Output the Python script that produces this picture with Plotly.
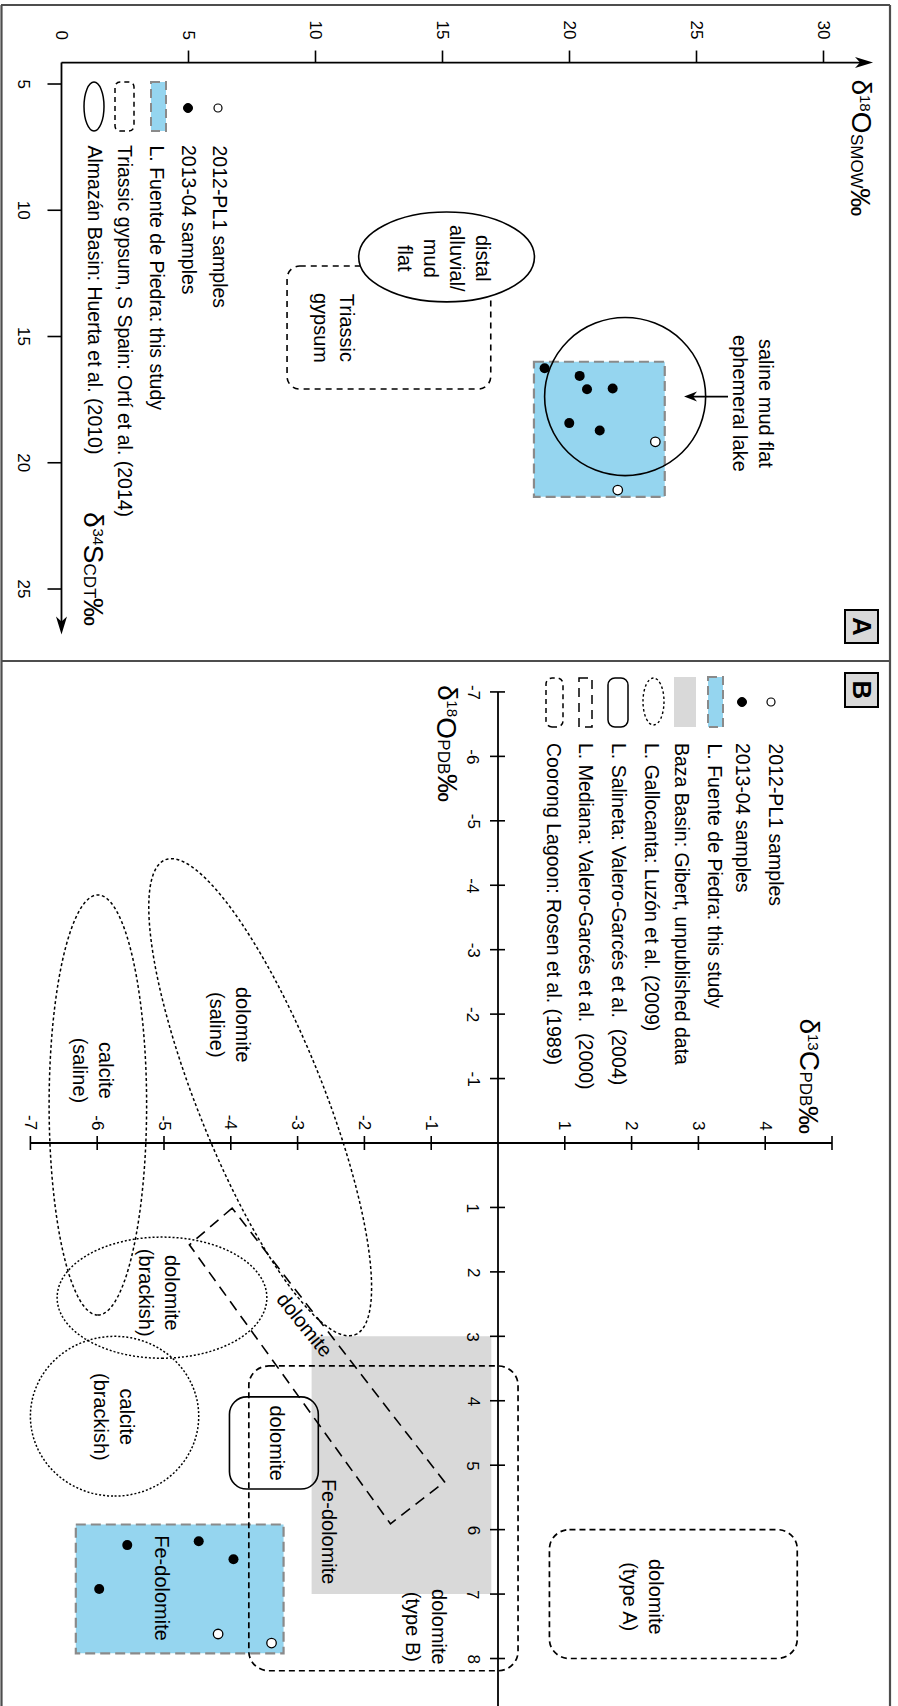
import numpy as np
import plotly.graph_objects as go

W, H = 898, 1706
SPLIT = 1 - 661 / H          # paper y of the line between panels A and B
FONT = "Liberation Sans, Arial, Helvetica, sans-serif"
BLUE = "#95d5ef"
BLUE_EDGE = "#8a8a8a"
GREY_FILL = "#d9d9d9"

# ---------------- Panel A: gypsum δ34S (CDT) vs δ18O (SMOW) ----------------
A_PL1_D18O = [23.38, 21.90]
A_PL1_D34S = [19.17, 21.08]
A_1304_D18O = [19.02, 20.40, 20.69, 21.70, 19.99, 21.19]
A_1304_D34S = [16.26, 16.56, 17.09, 17.06, 18.43, 18.72]

A_FUENTE_D18O = [18.6, 23.75]
A_FUENTE_D34S = [16.0, 21.35]
A_TRIASSIC_D18O = [8.88, 16.9]
A_TRIASSIC_D34S = [12.21, 17.08]
# Almazán Basin fields: centre (δ18O, δ34S) and half-widths
A_DISTAL_CENTER = [15.16, 11.85]
A_DISTAL_HALF = [3.46, 1.78]
A_SALINE_CENTER = [22.19, 17.38]
A_SALINE_HALF = [3.17, 3.13]

A_D18O_TICKS = [0, 5, 10, 15, 20, 25, 30]
A_D34S_TICKS = [5, 10, 15, 20, 25]
A_ORIGIN = [0, 4.15]
A_D18O_END = 31.95
A_D34S_END = 26.8

A_FIELD_LABELS = [
    ("distal<br>alluvial/<br>mud<br>flat", 15.06, 11.89),
    ("Triassic<br>gypsum", 10.73, 14.66),
    ("saline mud flat<br>ephemeral lake", 27.22, 17.67),
]
A_POINTER = [26.24, 24.51, 17.38]   # δ18O from, δ18O to, δ34S

# ---------------- Panel B: carbonate δ13C (PDB) vs δ18O (PDB) ----------------
B_PL1_D13C = [-4.19, -3.39]
B_PL1_D18O = [7.62, 7.76]
B_1304_D13C = [-5.55, -4.48, -3.96, -5.97]
B_1304_D18O = [6.24, 6.18, 6.46, 6.92]

B_FUENTE_D13C = [-6.32, -3.21]
B_FUENTE_D18O = [5.92, 7.92]
B_BAZA_D13C = [-2.79, -0.10]
B_BAZA_D18O = [3.0, 7.0]
B_SALINETA_D13C = [-4.02, -2.69]
B_SALINETA_D18O = [3.94, 5.37]
B_COORONG_B_D13C = [-3.73, 0.30]
B_COORONG_B_D18O = [3.46, 8.19]
B_COORONG_A_D13C = [0.77, 4.48]
B_COORONG_A_D18O = [6.0, 8.0]
B_MEDIANA_D13C = [-3.98, -4.62, -1.61, -0.80]
B_MEDIANA_D18O = [1.01, 1.58, 5.91, 5.26]
# Gallocanta fields: centre δ13C, centre δ18O, half-width across, half-length along, tilt (deg)
B_GALLOCANTA = [
    [-3.56, -0.71, 0.945, 3.95, 21.0],   # dolomite (saline)
    [-5.99, -0.59, 0.73, 3.26, 0.0],     # calcite (saline)
    [-5.03, 2.40, 1.57, 0.94, 0.0],      # dolomite (brackish)
    [-5.74, 4.24, 1.26, 1.24, 0.0],      # calcite (brackish)
]
B_GALLOCANTA_DASH = ["3px,2.5px", "3px,2.5px", "2px,2px", "2px,2px"]

B_D13C_TICKS = [-7, -6, -5, -4, -3, -2, -1, 1, 2, 3, 4, 5]
B_D13C_LABELS = [-7, -6, -5, -4, -3, -2, -1, 1, 2, 3, 4]
B_D18O_TICKS = [-7, -6, -5, -4, -3, -2, -1, 1, 2, 3, 4, 5, 6, 7, 8]
B_D13C_RANGE = [-7, 5]
B_D18O_RANGE = [-7, 8.74]

B_FIELD_LABELS = [
    ("dolomite<br>(saline)", -4.01, -1.83, 90),
    ("calcite<br>(saline)", -6.06, -1.12, 90),
    ("dolomite<br>(brackish)", -5.07, 2.33, 90),
    ("calcite<br>(brackish)", -5.75, 4.25, 90),
    ("dolomite", -2.89, 2.82, 51),
    ("dolomite", -3.31, 4.66, 90),
    ("Fe-dolomite", -2.54, 6.04, 90),
    ("Fe-dolomite", -5.03, 6.91, 90),
    ("dolomite<br>(type B)", -1.08, 7.51, 90),
    ("dolomite<br>(type A)", 2.16, 7.05, 90),
]

LEGEND_A = ["2012-PL1 samples", "2013-04 samples", "L. Fuente de Piedra: this study",
            "Triassic gypsum, S Spain: Ortí et al. (2014)", "Almazán Basin: Huerta et al. (2010)"]
LEGEND_B = ["2012-PL1 samples", "2013-04 samples", "L. Fuente de Piedra: this study",
            "Baza Basin: Gibert, unpublished data", "L. Gallocanta: Luzón et al. (2009)",
            "L. Salineta: Valero-Garcés et al.  (2004)", "L. Mediana: Valero-Garcés et al.  (2000)",
            "Coorong Lagoon: Rosen et al. (1989)"]

shapes = []
annotations = []


def px(x):
    return x / W


def py(y):
    return 1 - y / H


def rrect_path(x0, x1, y0, y1, rx, ry):
    xa, xb = min(x0, x1), max(x0, x1)
    ya, yb = min(y0, y1), max(y0, y1)
    c = 0.5523
    return " ".join([
        f"M{xa + rx},{ya}", f"L{xb - rx},{ya}",
        f"C{xb - rx + c * rx},{ya} {xb},{ya + ry - c * ry} {xb},{ya + ry}",
        f"L{xb},{yb - ry}",
        f"C{xb},{yb - ry + c * ry} {xb - rx + c * rx},{yb} {xb - rx},{yb}",
        f"L{xa + rx},{yb}",
        f"C{xa + rx - c * rx},{yb} {xa},{yb - ry + c * ry} {xa},{yb - ry}",
        f"L{xa},{ya + ry}",
        f"C{xa},{ya + ry - c * ry} {xa + rx - c * rx},{ya} {xa + rx},{ya}", "Z"])


def ellipse_path(cx, cy, hx, hy, tilt, n=160):
    t = np.linspace(0, 2 * np.pi, n, endpoint=False)
    th = np.radians(tilt)
    xs = cx + hy * np.cos(t) * np.sin(th) + hx * np.sin(t) * np.cos(th)
    ys = cy + hy * np.cos(t) * np.cos(th) - hx * np.sin(t) * np.sin(th)
    pts = [f"{a:.4f},{b:.4f}" for a, b in zip(xs, ys)]
    return "M" + " L".join(pts) + " Z"


def poly_path(xs, ys):
    return "M" + " L".join(f"{a},{b}" for a, b in zip(xs, ys)) + " Z"


def add_shape(layer="below", **kw):
    kw.setdefault("layer", layer)
    shapes.append(kw)


def ln(width=1.8, dash="solid", color="black"):
    return dict(color=color, width=width, dash=dash)


def text(x, y, s, xref="x", yref="y", size=19, angle=90, xanchor="center",
         yanchor="middle", xshift=0, yshift=0, bold=False):
    annotations.append(dict(
        x=x, y=y, xref=xref, yref=yref, text=f"<b>{s}</b>" if bold else s,
        showarrow=False, textangle=angle, align="center",
        font=dict(family=FONT, size=size, color="black"),
        xanchor=xanchor, yanchor=yanchor, xshift=xshift, yshift=yshift))


# advance widths (em) of the glyphs used in the isotope axis titles
ADV = {"δ": 0.556, "0": 0.556, "1": 0.556, "3": 0.556, "4": 0.556, "8": 0.556,
       "O": 0.778, "S": 0.667, "C": 0.722, "M": 0.833, "W": 0.944, "D": 0.722,
       "T": 0.611, "P": 0.667, "B": 0.667, "‰": 1.0}
BIG, SUP, SUB = 28, 15, 17


def title_length(iso, elem, std):
    return (ADV["δ"] * BIG + sum(ADV[c] for c in iso) * SUP + ADV[elem] * BIG
            + sum(ADV[c] for c in std) * SUB + ADV["‰"] * BIG)


def axis_title(x, y, xref, yref, iso, elem, std, xshift, top_shift):
    """Rotated isotope title (reads top to bottom); top_shift is the y shift of its start."""
    base = -0.35 * BIG                       # baseline offset from the main glyph centre
    pieces = [("δ", BIG, 0.0), (iso, SUP, base + 0.33 * BIG + 0.35 * SUP),
              (elem, BIG, 0.0), (std, SUB, base + 0.35 * SUB), ("‰", BIG, 0.0)]
    pos = 0.0
    for s, size, dx in pieces:
        text(x, y, s, xref=xref, yref=yref, size=size, yanchor="top",
             xshift=xshift + dx, yshift=top_shift - pos)
        pos += sum(ADV[c] for c in s) * size


def arrowhead(xref, yref, x, y, direction, length=18, half=5.5, notch=13):
    if direction == "right":
        p = f"M0,0 L{-length},{half} L{-notch},0 L{-length},{-half} Z"
    elif direction == "left":
        p = f"M0,0 L{length},{half} L{notch},0 L{length},{-half} Z"
    else:  # down
        p = f"M0,0 L{half},{length} L0,{notch} L{-half},{length} Z"
    add_shape(type="path", xref=xref, yref=yref, xsizemode="pixel", ysizemode="pixel",
              xanchor=x, yanchor=y, path=p, fillcolor="black", line=dict(width=0))


# ======================= Panel A =======================
add_shape(type="rect", xref="x", yref="y", x0=A_FUENTE_D18O[0], x1=A_FUENTE_D18O[1],
          y0=A_FUENTE_D34S[0], y1=A_FUENTE_D34S[1], fillcolor=BLUE,
          line=ln(2.2, "10px,5px", BLUE_EDGE))
add_shape(type="path", xref="x", yref="y",
          path=rrect_path(A_TRIASSIC_D18O[0], A_TRIASSIC_D18O[1],
                          A_TRIASSIC_D34S[0], A_TRIASSIC_D34S[1], 0.5, 0.5),
          line=ln(1.6, "6px,5px"))
add_shape(type="circle", xref="x", yref="y",
          x0=A_DISTAL_CENTER[0] - A_DISTAL_HALF[0], x1=A_DISTAL_CENTER[0] + A_DISTAL_HALF[0],
          y0=A_DISTAL_CENTER[1] - A_DISTAL_HALF[1], y1=A_DISTAL_CENTER[1] + A_DISTAL_HALF[1],
          fillcolor="white", line=ln(1.6))
add_shape(type="circle", xref="x", yref="y",
          x0=A_SALINE_CENTER[0] - A_SALINE_HALF[0], x1=A_SALINE_CENTER[0] + A_SALINE_HALF[0],
          y0=A_SALINE_CENTER[1] - A_SALINE_HALF[1], y1=A_SALINE_CENTER[1] + A_SALINE_HALF[1],
          line=ln(1.6))
add_shape(type="line", xref="x", yref="y", x0=A_POINTER[0], x1=A_POINTER[1] + 0.3,
          y0=A_POINTER[2], y1=A_POINTER[2], line=ln(1.6))
arrowhead("x", "y", A_POINTER[1], A_POINTER[2], "left", length=13, half=5, notch=9)

add_shape(type="line", xref="x", yref="y", x0=A_ORIGIN[0], x1=A_D18O_END - 0.4,
          y0=A_ORIGIN[1], y1=A_ORIGIN[1], line=ln(1.8))
arrowhead("x", "y", A_D18O_END, A_ORIGIN[1], "right")
add_shape(type="line", xref="x", yref="y", x0=A_ORIGIN[0], x1=A_ORIGIN[0],
          y0=A_ORIGIN[1], y1=A_D34S_END - 0.4, line=ln(1.8))
arrowhead("x", "y", A_ORIGIN[0], A_D34S_END, "down")
for v in A_D18O_TICKS[1:]:
    add_shape(type="line", xref="x", yref="y", x0=v, x1=v, ysizemode="pixel",
              yanchor=A_ORIGIN[1], y0=0, y1=12, line=ln(1.6))
for v in A_D18O_TICKS:
    text(v, A_ORIGIN[1], str(v), size=17, yanchor="bottom", yshift=21)
for v in A_D34S_TICKS:
    add_shape(type="line", xref="x", yref="y", y0=v, y1=v, xsizemode="pixel",
              xanchor=A_ORIGIN[0], x0=-14, x1=0, line=ln(1.6))
    text(A_ORIGIN[0], v, str(v), size=17, xshift=-38)

axis_title(A_D18O_END, A_ORIGIN[1], "x", "y", "18", "O", "SMOW", xshift=-12, top_shift=-15)
axis_title(A_ORIGIN[0], A_D34S_END, "x", "y", "34", "S", "CDT", xshift=32,
           top_shift=10 + title_length("34", "S", "CDT"))

for s, xv, yv in A_FIELD_LABELS:
    text(xv, yv, s, size=20)

# legend A
add_shape(layer="above", type="circle", xref="paper", yref="paper",
          x0=px(214), x1=px(222), y0=py(104), y1=py(112), fillcolor="white", line=ln(1.2))
add_shape(layer="above", type="circle", xref="paper", yref="paper",
          x0=px(183.5), x1=px(192.5), y0=py(103.5), y1=py(112.5), fillcolor="black", line=ln(1))
add_shape(layer="above", type="rect", xref="paper", yref="paper",
          x0=px(151), x1=px(166), y0=py(82), y1=py(131), fillcolor=BLUE,
          line=ln(2, "9px,5px", BLUE_EDGE))
add_shape(layer="above", type="path", xref="paper", yref="paper",
          path=rrect_path(px(115), px(134), py(82), py(131), px(5), 5 / H),
          line=ln(1.5, "5px,4px"))
add_shape(layer="above", type="circle", xref="paper", yref="paper",
          x0=px(84), x1=px(104), y0=py(82), y1=py(131), line=ln(1.5))
for s, xc in zip(LEGEND_A, [220, 189, 157, 125, 95]):
    text(px(xc), py(143), s, xref="paper", yref="paper", size=19.5, yanchor="top")

# ======================= Panel B =======================
add_shape(type="rect", xref="x2", yref="y2", x0=B_BAZA_D13C[0], x1=B_BAZA_D13C[1],
          y0=B_BAZA_D18O[0], y1=B_BAZA_D18O[1], fillcolor=GREY_FILL, line=dict(width=0))
add_shape(type="rect", xref="x2", yref="y2", x0=B_FUENTE_D13C[0], x1=B_FUENTE_D13C[1],
          y0=B_FUENTE_D18O[0], y1=B_FUENTE_D18O[1], fillcolor=BLUE,
          line=ln(2.2, "10px,5px", BLUE_EDGE))
for (cx, cy, hx, hy, tilt), dash in zip(B_GALLOCANTA, B_GALLOCANTA_DASH):
    add_shape(type="path", xref="x2", yref="y2", path=ellipse_path(cx, cy, hx, hy, tilt),
              line=ln(1.5, dash))
add_shape(type="path", xref="x2", yref="y2", path=poly_path(B_MEDIANA_D13C, B_MEDIANA_D18O),
          line=ln(1.6, "11px,7px"))
add_shape(type="path", xref="x2", yref="y2",
          path=rrect_path(B_SALINETA_D13C[0], B_SALINETA_D13C[1],
                          B_SALINETA_D18O[0], B_SALINETA_D18O[1], 0.26, 0.27),
          line=ln(1.6))
add_shape(type="path", xref="x2", yref="y2",
          path=rrect_path(B_COORONG_B_D13C[0], B_COORONG_B_D13C[1],
                          B_COORONG_B_D18O[0], B_COORONG_B_D18O[1], 0.3, 0.3),
          line=ln(1.7, "6px,4px"))
add_shape(type="path", xref="x2", yref="y2",
          path=rrect_path(B_COORONG_A_D13C[0], B_COORONG_A_D13C[1],
                          B_COORONG_A_D18O[0], B_COORONG_A_D18O[1], 0.3, 0.3),
          line=ln(1.7, "6px,4px"))

add_shape(type="line", xref="x2", yref="y2", x0=B_D13C_RANGE[0], x1=B_D13C_RANGE[1],
          y0=0, y1=0, line=ln(1.8))
add_shape(type="line", xref="x2", yref="y2", x0=0, x1=0,
          y0=B_D18O_RANGE[0], y1=B_D18O_RANGE[1], line=ln(1.8))
for v in B_D13C_TICKS:
    add_shape(type="line", xref="x2", yref="y2", x0=v, x1=v, ysizemode="pixel",
              yanchor=0, y0=-7, y1=7, line=ln(1.6))
for v in B_D13C_LABELS:
    text(v, 0, str(v), xref="x2", yref="y2", size=17, yanchor="bottom", yshift=11)
for v in B_D18O_TICKS:
    add_shape(type="line", xref="x2", yref="y2", y0=v, y1=v, xsizemode="pixel",
              xanchor=0, x0=-8, x1=7, line=ln(1.6))
    text(0, v, str(v), xref="x2", yref="y2", size=17, xshift=-25)

axis_title(B_D13C_RANGE[1], 0, "x2", "y2", "13", "C", "PDB", xshift=-23,
           top_shift=11 + title_length("13", "C", "PDB"))
axis_title(0, B_D18O_RANGE[0], "x2", "y2", "18", "O", "PDB", xshift=-51, top_shift=9)

for s, xv, yv, ang in B_FIELD_LABELS:
    text(xv, yv, s, xref="x2", yref="y2", size=20, angle=ang)

# legend B
add_shape(layer="above", type="circle", xref="paper", yref="paper",
          x0=px(767), x1=px(775), y0=py(698), y1=py(706), fillcolor="white", line=ln(1.2))
add_shape(layer="above", type="circle", xref="paper", yref="paper",
          x0=px(737.5), x1=px(746.5), y0=py(697.5), y1=py(706.5), fillcolor="black", line=ln(1))
add_shape(layer="above", type="rect", xref="paper", yref="paper",
          x0=px(708), x1=px(723), y0=py(677), y1=py(727), fillcolor=BLUE,
          line=ln(2, "9px,5px", BLUE_EDGE))
add_shape(layer="above", type="rect", xref="paper", yref="paper",
          x0=px(674), x1=px(696), y0=py(677), y1=py(727), fillcolor=GREY_FILL, line=dict(width=0))
add_shape(layer="above", type="circle", xref="paper", yref="paper",
          x0=px(643), x1=px(664), y0=py(678), y1=py(725), line=ln(1.4, "2.5px,2.5px"))
add_shape(layer="above", type="path", xref="paper", yref="paper",
          path=rrect_path(px(608), px(628), py(678), py(727), px(7), 7 / H), line=ln(1.5))
add_shape(layer="above", type="rect", xref="paper", yref="paper",
          x0=px(579), x1=px(592), y0=py(678), y1=py(727), line=ln(1.5, "9px,6px"))
add_shape(layer="above", type="path", xref="paper", yref="paper",
          path=rrect_path(px(546), px(563), py(678), py(727), px(6), 6 / H),
          line=ln(1.5, "5px,4px"))
for s, xc in zip(LEGEND_B, [775, 743, 714, 682, 652, 619, 586, 554]):
    text(px(xc), py(741), s, xref="paper", yref="paper", size=19.5, yanchor="top")

# ======================= frame and panel tags =======================
for x0, y0, x1, y1 in [(1, 5, 890, 5), (1.5, 5, 1.5, H), (890, 5, 890, H), (1, 661, 890, 661)]:
    add_shape(layer="above", type="line", xref="paper", yref="paper",
              x0=px(x0), x1=px(x1), y0=py(y0), y1=py(y1), line=ln(2.2, color="#4d4d4d"))
for tag, (y0, y1) in [("A", (610, 643)), ("B", (673, 707))]:
    add_shape(layer="above", type="rect", xref="paper", yref="paper",
              x0=px(845), x1=px(878), y0=py(y0), y1=py(y1), fillcolor=GREY_FILL, line=ln(2))
    text(px(861.5), py((y0 + y1) / 2), tag, xref="paper", yref="paper", size=26, bold=True)

fig = go.Figure()
fig.add_trace(go.Scatter(x=A_1304_D18O, y=A_1304_D34S, mode="markers", xaxis="x", yaxis="y",
                         marker=dict(size=10, color="black"), hoverinfo="skip"))
fig.add_trace(go.Scatter(x=A_PL1_D18O, y=A_PL1_D34S, mode="markers", xaxis="x", yaxis="y",
                         marker=dict(size=9.5, color="white", line=dict(color="black", width=1.3)),
                         hoverinfo="skip"))
fig.add_trace(go.Scatter(x=B_1304_D13C, y=B_1304_D18O, mode="markers", xaxis="x2", yaxis="y2",
                         marker=dict(size=10, color="black"), hoverinfo="skip"))
fig.add_trace(go.Scatter(x=B_PL1_D13C, y=B_PL1_D18O, mode="markers", xaxis="x2", yaxis="y2",
                         marker=dict(size=9.5, color="white", line=dict(color="black", width=1.3)),
                         hoverinfo="skip"))

fig.update_layout(
    width=W, height=H, margin=dict(l=0, r=0, t=0, b=0),
    paper_bgcolor="white", plot_bgcolor="rgba(0,0,0,0)", showlegend=False,
    font=dict(family=FONT, color="black"),
    xaxis=dict(domain=[0, 1], range=[-2.421, 32.933], visible=False, anchor="y"),
    yaxis=dict(domain=[SPLIT, 1], range=[27.851, 1.673], visible=False, anchor="x"),
    xaxis2=dict(domain=[0, 1], range=[-7.455, 5.988], visible=False, anchor="y2"),
    yaxis2=dict(domain=[0, SPLIT], range=[8.737, -7.480], visible=False, anchor="x2"),
    shapes=shapes, annotations=annotations,
)
fig.write_html("out.html")
